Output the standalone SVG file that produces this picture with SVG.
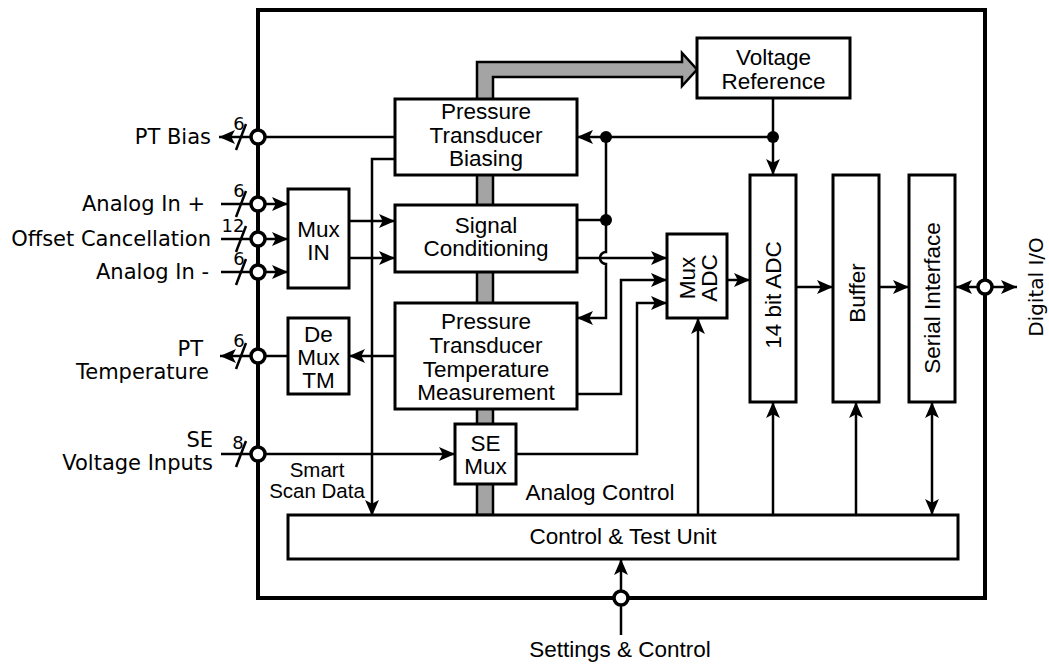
<svg xmlns="http://www.w3.org/2000/svg" width="1049" height="664" viewBox="0 0 1049 664">
<style>
.box{fill:#fff;stroke:#000;stroke-width:3}
.frame{fill:none;stroke:#000;stroke-width:4}
.ln{fill:none;stroke:#000;stroke-width:2.5}
.ar{marker-end:url(#ah)}
.ar2{marker-start:url(#ahs);marker-end:url(#ah)}
.port{fill:#fff;stroke:#000;stroke-width:3.5}
.dot{fill:#000}
.bus{fill:#a4a4a4;stroke:#000;stroke-width:2.5;stroke-linejoin:miter}
text{font-family:"Liberation Sans",Arial,sans-serif;font-size:22.5px;fill:#000}
.c{text-anchor:middle}
.e{text-anchor:end}
.lab{font-family:"DejaVu Sans",sans-serif;font-size:21px}
.num{font-family:"DejaVu Sans",sans-serif;font-size:18px;text-anchor:middle}
.sm{font-size:20.5px;text-anchor:middle}
.dio{font-family:"DejaVu Sans",sans-serif;font-size:20px;text-anchor:middle}
</style>
<defs>
<marker id="ah" markerUnits="userSpaceOnUse" markerWidth="16" markerHeight="16" viewBox="0 0 15 14" refX="15" refY="7" orient="auto">
<path d="M0,0.5 L15,7 L0,13.5 L3.5,7 Z" fill="#000"/>
</marker>
<marker id="ahs" markerUnits="userSpaceOnUse" markerWidth="16" markerHeight="16" viewBox="0 0 15 14" refX="15" refY="7" orient="auto-start-reverse">
<path d="M0,0.5 L15,7 L0,13.5 L3.5,7 Z" fill="#000"/>
</marker>
</defs>
<rect width="1049" height="664" fill="#fff"/>
<g id="frame">
<rect class="frame" x="258" y="10" width="727" height="588"/>
</g>
<g id="analog-bus">
<path class="bus" d="M477,515 L477,62 L682,62 L682,53 L697,69.5 L682,86 L682,77 L493,77 L493,515 Z"/>
</g>
<g id="connectors">
<path class="ln ar" d="M395,137 L219,137"/>
<path class="ln ar" d="M221,204 L288,204"/>
<path class="ln ar" d="M221,239 L288,239"/>
<path class="ln ar" d="M221,272 L288,272"/>
<path class="ln ar" d="M349,221 L395,221"/>
<path class="ln ar" d="M349,258 L395,258"/>
<path class="ln ar" d="M395,159 L372,159 L372,516"/>
<path class="ln ar" d="M773,98 L773,175"/>
<path class="ln ar" d="M773,137 L577,137"/>
<path class="ln ar" d="M606,137 L606,252 A6,6 0 0 0 606,264 L606,318 L577,318"/>
<path class="ln" d="M577,220 L606,220"/>
<path class="ln ar" d="M577,258 L667,258"/>
<path class="ln ar" d="M577,394 L621,394 L621,280 L667,280"/>
<path class="ln ar" d="M516,454 L637,454 L637,303 L667,303"/>
<path class="ln ar" d="M727,280 L750,280"/>
<path class="ln ar" d="M796,287 L833,287"/>
<path class="ln ar" d="M879,287 L909,287"/>
<path class="ln ar" d="M985,287 L956,287"/>
<path class="ln ar" d="M985,287 L1017,287"/>
<path class="ln ar" d="M698,515 L698,318"/>
<path class="ln ar" d="M773,515 L773,402"/>
<path class="ln ar" d="M856,515 L856,402"/>
<path class="ln ar2" d="M932,402 L932,515"/>
<path class="ln ar" d="M621,635 L621,559"/>
<path class="ln ar" d="M395,356 L349,356"/>
<path class="ln ar" d="M288,356 L220,356"/>
<path class="ln ar" d="M221,454 L455,454"/>
<g class="ln">
<line x1="236" y1="150" x2="246" y2="124"/>
<line x1="236" y1="217" x2="246" y2="191"/>
<line x1="236" y1="252" x2="246" y2="226"/>
<line x1="236" y1="285" x2="246" y2="259"/>
<line x1="236" y1="369" x2="246" y2="343"/>
<line x1="236" y1="467" x2="246" y2="441"/>
</g>
<circle class="dot" cx="606" cy="137" r="6"/>
<circle class="dot" cx="773" cy="137" r="6"/>
<circle class="dot" cx="606" cy="220" r="6"/>
</g>
<g id="ports">
<circle class="port" cx="258" cy="137" r="7"/>
<circle class="port" cx="258" cy="204" r="7"/>
<circle class="port" cx="258" cy="239" r="7"/>
<circle class="port" cx="258" cy="272" r="7"/>
<circle class="port" cx="258" cy="356" r="7"/>
<circle class="port" cx="258" cy="454" r="7"/>
<circle class="port" cx="985" cy="287" r="7"/>
<circle class="port" cx="621" cy="598" r="7"/>
</g>
<g id="port-labels">
<text class="e lab" x="211" y="144">PT Bias</text>
<text class="e lab" x="205" y="211">Analog In +</text>
<text class="e lab" x="211" y="246">Offset Cancellation</text>
<text class="e lab" x="209" y="279">Analog In -</text>
<text class="e lab" x="203" y="356">PT</text>
<text class="e lab" x="209" y="379">Temperature</text>
<text class="e lab" x="213" y="447">SE</text>
<text class="e lab" x="213" y="470">Voltage Inputs</text>
<text class="num" x="239" y="130">6</text>
<text class="num" x="239" y="197">6</text>
<text class="num" x="233" y="232">12</text>
<text class="num" x="239" y="265">6</text>
<text class="num" x="239" y="347">6</text>
<text class="num" x="238" y="449">8</text>
<text class="sm" x="317" y="477">Smart</text>
<text class="sm" x="317" y="498">Scan Data</text>
<text class="c" x="600" y="500">Analog Control</text>
<text class="c" x="620" y="657">Settings &amp; Control</text>
<text class="dio" transform="translate(1043,287) rotate(-90)">Digital I/O</text>
</g>
<g id="voltage-reference">
<rect class="box" x="697" y="38" width="153" height="60"/>
<text class="c" x="773.5" y="65">Voltage</text>
<text class="c" x="773.5" y="89">Reference</text>
</g>
<g id="pt-biasing">
<rect class="box" x="395" y="99" width="182" height="76"/>
<text class="c" x="486" y="119">Pressure</text>
<text class="c" x="486" y="143">Transducer</text>
<text class="c" x="486" y="166">Biasing</text>
</g>
<g id="signal-conditioning">
<rect class="box" x="395" y="205" width="182" height="67"/>
<text class="c" x="486" y="233">Signal</text>
<text class="c" x="486" y="256">Conditioning</text>
</g>
<g id="pt-temperature">
<rect class="box" x="395" y="303" width="182" height="106"/>
<text class="c" x="486" y="329">Pressure</text>
<text class="c" x="486" y="353">Transducer</text>
<text class="c" x="486" y="377">Temperature</text>
<text class="c" x="486" y="400">Measurement</text>
</g>
<g id="se-mux">
<rect class="box" x="455" y="424" width="61" height="60"/>
<text class="c" x="485.5" y="451">SE</text>
<text class="c" x="485.5" y="474">Mux</text>
</g>
<g id="mux-in">
<rect class="box" x="288" y="189" width="61" height="99"/>
<text class="c" x="318.5" y="237">Mux</text>
<text class="c" x="318.5" y="260">IN</text>
</g>
<g id="demux-tm">
<rect class="box" x="288" y="318" width="61" height="76"/>
<text class="c" x="318.5" y="342">De</text>
<text class="c" x="318.5" y="365">Mux</text>
<text class="c" x="318.5" y="388">TM</text>
</g>
<g id="mux-adc">
<rect class="box" x="667" y="234" width="60" height="84"/>
<text class="c" transform="translate(695,278) rotate(-90)">Mux</text>
<text class="c" transform="translate(717,278) rotate(-90)">ADC</text>
</g>
<g id="adc14">
<rect class="box" x="750" y="175" width="46" height="227"/>
<text class="c" transform="translate(781,295) rotate(-90)">14 bit ADC</text>
</g>
<g id="buffer">
<rect class="box" x="833" y="175" width="46" height="227"/>
<text class="c" transform="translate(864.5,293) rotate(-90)">Buffer</text>
</g>
<g id="serial-interface">
<rect class="box" x="909" y="175" width="46" height="227"/>
<text class="c" transform="translate(940,298) rotate(-90)">Serial Interface</text>
</g>
<g id="control-test-unit">
<rect class="box" x="288" y="515" width="670" height="44"/>
<text class="c" x="623" y="544">Control &amp; Test Unit</text>
</g>
</svg>
